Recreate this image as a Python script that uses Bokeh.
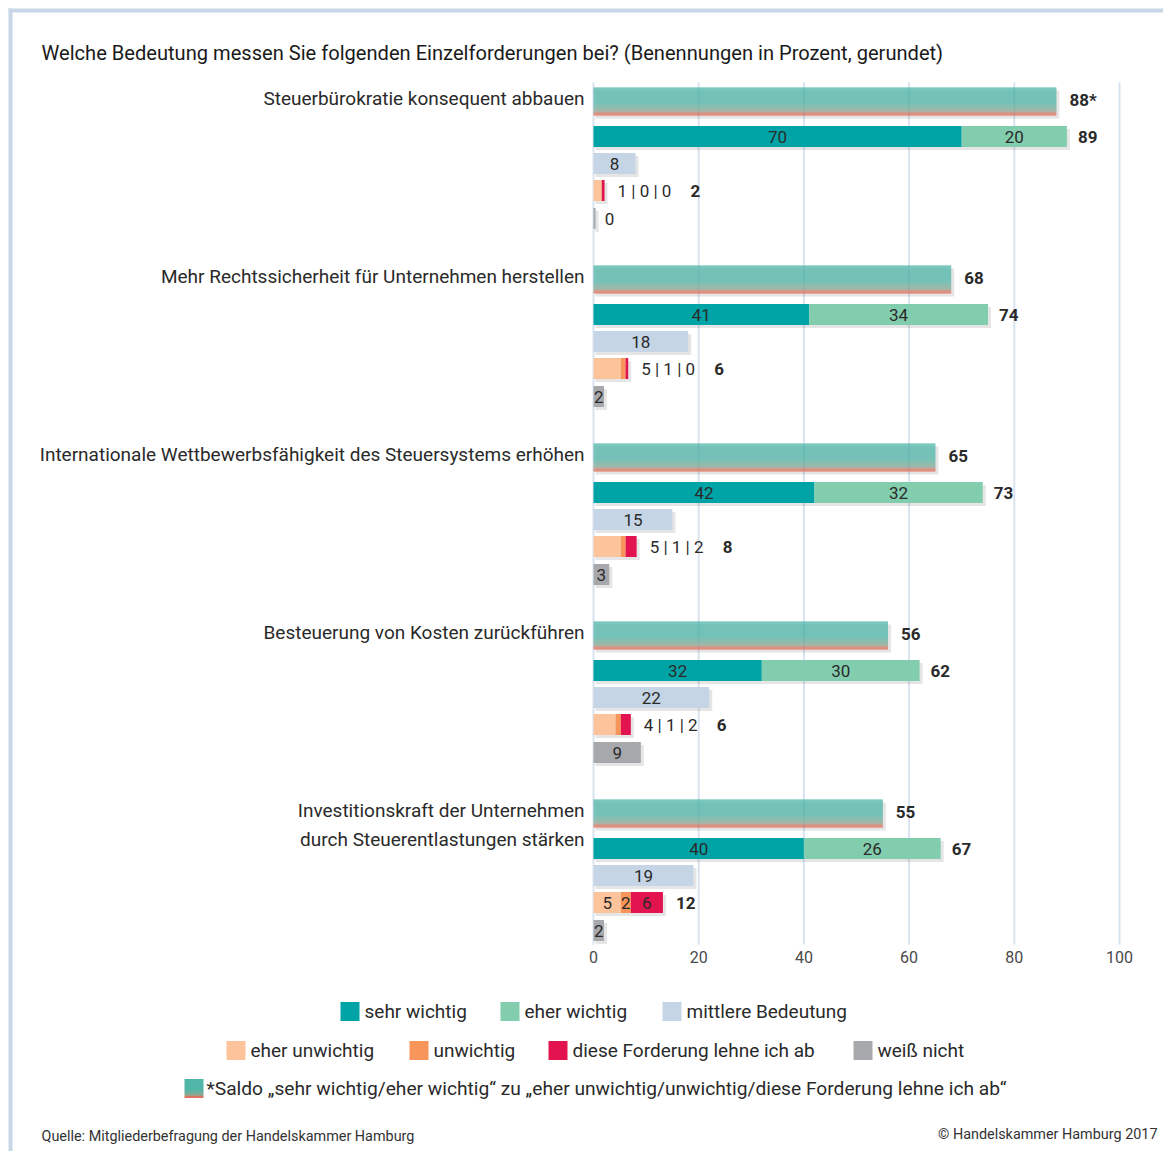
from bokeh.plotting import figure
from bokeh.models import Range1d, LinearAxis, FixedTicker
from bokeh.core.properties import value
from bokeh.embed import file_html
from bokeh.resources import INLINE

# ---------------- data ----------------
categories = [
    "Steuerbürokratie konsequent abbauen",
    "Mehr Rechtssicherheit für Unternehmen herstellen",
    "Internationale Wettbewerbsfähigkeit des Steuersystems erhöhen",
    "Besteuerung von Kosten zurückführen",
    "Investitionskraft der Unternehmen\ndurch Steuerentlastungen stärken",
]
saldo = [88, 68, 65, 56, 55]
saldo_labels = ["88*", "68", "65", "56", "55"]
sehr_wichtig = [70, 41, 42, 32, 40]
eher_wichtig = [20, 34, 32, 30, 26]
wichtig_total = [89, 74, 73, 62, 67]
mittlere = [8, 18, 15, 22, 19]
eher_unwichtig = [1.5, 5.2, 5.2, 4.2, 5.2]
unwichtig = [0.1, 0.9, 0.9, 1.0, 1.9]
ablehnen = [0.5, 0.5, 2.1, 1.9, 6.1]
eher_unwichtig_lbl = [1, 5, 5, 4, 5]
unwichtig_lbl = [0, 1, 1, 1, 2]
ablehnen_lbl = [0, 0, 2, 2, 6]
unwichtig_total = [2, 6, 8, 6, 12]
weiss_nicht = [0.4, 2, 3, 9, 2]
weiss_nicht_lbl = [0, 2, 3, 9, 2]
ticks = [0, 20, 40, 60, 80, 100]

title = "Welche Bedeutung messen Sie folgenden Einzelforderungen bei? (Benennungen in Prozent, gerundet)"
legend_row1 = ["sehr wichtig", "eher wichtig", "mittlere Bedeutung"]
legend_row2 = ["eher unwichtig", "unwichtig", "diese Forderung lehne ich ab", "weiß nicht"]
legend_saldo = "*Saldo „sehr wichtig/eher wichtig“ zu „eher unwichtig/unwichtig/diese Forderung lehne ich ab“"
source_text = "Quelle: Mitgliederbefragung der Handelskammer Hamburg"
copyright_text = "© Handelskammer Hamburg 2017"

# ---------------- style ----------------
C_SEHR = "#00a3a6"
C_EHER = "#82cdad"
C_MITTEL = "#c5d5e6"
C_EUNW = "#fdc49c"
C_UNW = "#f7955a"
C_ABL = "#e2134f"
C_WEISS = "#a7a8ac"
C_GRID = "#d9e3ef"
C_FRAME = "#c8d7e8"
TXT = "#2a2a2a"

FONTNAME = "Roboto"
FONT = value(FONTNAME)

W, H = 1163, 1151
PX = 5.26      # pixels per percent
X0 = 593.0     # canvas x of value 0


def X(px):
    return (px - X0) / PX


def U(px):
    return px / PX


p = figure(width=W, height=H, output_backend="svg", toolbar_location=None,
           x_range=Range1d(X(0), X(W)), y_range=Range1d(H, 0),
           x_axis_location=None, y_axis_location=None, min_border=0)
p.outline_line_color = None
p.xgrid.visible = False
p.ygrid.visible = False
p.background_fill_color = "white"
p.border_fill_color = "white"

# frame lines (top & left)
p.quad(left=[X(8)], right=[X(W)], top=[8], bottom=[12], fill_color=C_FRAME, line_color=None)
p.quad(left=[X(8)], right=[X(12)], top=[8], bottom=[H], fill_color=C_FRAME, line_color=None)

# title
p.text(x=[X(41)], y=[52], text=[title], text_font=FONT, text_font_size="20.1px",
       text_color="#1a1a1a", text_baseline="middle", text_align="left")

n = len(categories)
gy = [101 + 178 * i for i in range(n)]
R_SEHR, R_MIT, R_UNW, R_WEISS = 35, 62, 89, 117
BH = 21

# grid lines
p.segment(x0=ticks, x1=ticks, y0=[82] * len(ticks), y1=[944] * len(ticks),
          line_color=C_GRID, line_width=2)

# axis
ax = LinearAxis(ticker=FixedTicker(ticks=ticks), fixed_location=941)
ax.axis_line_color = None
ax.major_tick_line_color = None
ax.minor_tick_line_color = None
ax.major_label_text_font = FONTNAME
ax.major_label_text_font_size = "16px"
ax.major_label_text_color = "#4a4a4a"
ax.major_label_standoff = 3
p.add_layout(ax, "below")


def shadow(rights, yc, h):
    p.quad(left=[U(2)] * len(rights), right=[r + U(3) for r in rights],
           top=[y - h / 2 + 3 for y in yc], bottom=[y + h / 2 + 3 for y in yc],
           fill_color="#000000", fill_alpha=0.10, line_color=None)


def mix(c1, c2, t):
    return tuple(int(round(a + (b - a) * t)) for a, b in zip(c1, c2))


def grad_color(t):
    teal = (79, 182, 168)
    midc = (140, 168, 148)
    red = (226, 112, 92)
    if t < 0.55:
        c = teal
    elif t < 0.86:
        c = mix(teal, midc, (t - 0.55) / 0.31)
    else:
        c = mix(midc, red, min(1.0, (t - 0.86) / 0.1))
    return "#%02x%02x%02x" % c


# saldo bars (gradient via strips)
SH = 28
shadow(saldo, gy, SH)
L, R, T, B, C = [], [], [], [], []
for i in range(n):
    top = gy[i] - SH / 2
    for k in range(SH):
        L.append(0)
        R.append(saldo[i])
        T.append(top + k)
        B.append(top + k + 1.05)
        C.append(grad_color(k / (SH - 1)))
p.quad(left=L, right=R, top=T, bottom=B, fill_color=C, line_color=None)
p.text(x=[s + U(13) for s in saldo], y=[y - 2 for y in gy], text=saldo_labels,
       text_font=FONT, text_font_size="17px", text_font_style="bold", text_color=TXT,
       text_baseline="middle")

# category labels
cx, cy, ct = [], [], []
for i, c in enumerate(categories):
    for j, line in enumerate(c.split("\n")):
        cx.append(X(584))
        cy.append(gy[i] - 3 + 29 * j)
        ct.append(line)
p.text(x=cx, y=cy, text=ct, text_font=FONT, text_font_size="19px", text_color=TXT,
       text_align="right", text_baseline="middle")

# sehr / eher wichtig
ys = [y + R_SEHR for y in gy]
shadow([a + b for a, b in zip(sehr_wichtig, eher_wichtig)], ys, BH)
p.quad(left=[0] * n, right=sehr_wichtig, top=[y - BH / 2 for y in ys], bottom=[y + BH / 2 for y in ys],
       fill_color=C_SEHR, line_color=None)
p.quad(left=sehr_wichtig, right=[a + b for a, b in zip(sehr_wichtig, eher_wichtig)],
       top=[y - BH / 2 for y in ys], bottom=[y + BH / 2 for y in ys], fill_color=C_EHER, line_color=None)
p.text(x=[a / 2 for a in sehr_wichtig], y=ys, text=[str(v) for v in sehr_wichtig], text_font=FONT,
       text_font_size="17px", text_color=TXT, text_align="center", text_baseline="middle")
p.text(x=[a + b / 2 for a, b in zip(sehr_wichtig, eher_wichtig)], y=ys, text=[str(v) for v in eher_wichtig],
       text_font=FONT, text_font_size="17px", text_color=TXT, text_align="center", text_baseline="middle")
p.text(x=[a + b + U(11) for a, b in zip(sehr_wichtig, eher_wichtig)], y=ys, text=[str(v) for v in wichtig_total],
       text_font=FONT, text_font_size="17px", text_font_style="bold", text_color=TXT, text_baseline="middle")

# mittlere Bedeutung
ym = [y + R_MIT for y in gy]
shadow(mittlere, ym, BH)
p.quad(left=[0] * n, right=mittlere, top=[y - BH / 2 for y in ym], bottom=[y + BH / 2 for y in ym],
       fill_color=C_MITTEL, line_color=None)
p.text(x=[m / 2 for m in mittlere], y=ym, text=[str(v) for v in mittlere], text_font=FONT,
       text_font_size="17px", text_color=TXT, text_align="center", text_baseline="middle")

# eher unwichtig / unwichtig / ablehnen
yu = [y + R_UNW for y in gy]
e1 = eher_unwichtig
e2 = [a + b for a, b in zip(eher_unwichtig, unwichtig)]
e3 = [a + b + c for a, b, c in zip(eher_unwichtig, unwichtig, ablehnen)]
shadow(e3, yu, BH)
p.quad(left=[0] * n, right=e1, top=[y - BH / 2 for y in yu], bottom=[y + BH / 2 for y in yu],
       fill_color=C_EUNW, line_color=None)
p.quad(left=e1, right=e2, top=[y - BH / 2 for y in yu], bottom=[y + BH / 2 for y in yu],
       fill_color=C_UNW, line_color=None)
p.quad(left=e2, right=e3, top=[y - BH / 2 for y in yu], bottom=[y + BH / 2 for y in yu],
       fill_color=C_ABL, line_color=None)
ox, oy, ot, ix, iy, it, tx, ty, tt = [], [], [], [], [], [], [], [], []
for i in range(n):
    if ablehnen[i] >= 4:
        for lo, hi, lab in ((0, e1[i], eher_unwichtig_lbl[i]), (e1[i], e2[i], unwichtig_lbl[i]),
                            (e2[i], e3[i], ablehnen_lbl[i])):
            ix.append((lo + hi) / 2)
            iy.append(yu[i])
            it.append(str(lab))
        tx.append(e3[i] + U(13))
    else:
        ox.append(e3[i] + U(13))
        oy.append(yu[i])
        ot.append("%d | %d | %d" % (eher_unwichtig_lbl[i], unwichtig_lbl[i], ablehnen_lbl[i]))
        tx.append(e3[i] + U(86))
    ty.append(yu[i])
    tt.append(str(unwichtig_total[i]))
p.text(x=ox, y=oy, text=ot, text_font=FONT, text_font_size="17px", text_color=TXT, text_baseline="middle")
p.text(x=ix, y=iy, text=it, text_font=FONT, text_font_size="17px", text_color=TXT, text_align="center",
       text_baseline="middle")
p.text(x=tx, y=ty, text=tt, text_font=FONT, text_font_size="17px", text_font_style="bold", text_color=TXT,
       text_baseline="middle")

# weiss nicht
yw = [y + R_WEISS for y in gy]
shadow(weiss_nicht, yw, BH)
p.quad(left=[0] * n, right=weiss_nicht, top=[y - BH / 2 for y in yw], bottom=[y + BH / 2 for y in yw],
       fill_color=C_WEISS, line_color=None)
wx = [w / 2 if l > 0 else w + U(14) for w, l in zip(weiss_nicht, weiss_nicht_lbl)]
p.text(x=wx, y=yw, text=[str(v) for v in weiss_nicht_lbl], text_font=FONT, text_font_size="17px",
       text_color=TXT, text_align="center", text_baseline="middle")

# legend
SQ = 19
leg1_x = [340, 500, 662]
leg1_c = [C_SEHR, C_EHER, C_MITTEL]
leg2_x = [226, 409, 548, 853]
leg2_c = [C_EUNW, C_UNW, C_ABL, C_WEISS]
for xs, cols, labels, yc in ((leg1_x, leg1_c, legend_row1, 1011), (leg2_x, leg2_c, legend_row2, 1050)):
    p.quad(left=[X(x) for x in xs], right=[X(x + SQ) for x in xs], top=[yc - SQ / 2] * len(xs),
           bottom=[yc + SQ / 2] * len(xs), fill_color=cols, line_color=None)
    p.text(x=[X(x + SQ + 5) for x in xs], y=[yc] * len(xs), text=labels, text_font=FONT,
           text_font_size="19px", text_color=TXT, text_baseline="middle")
L, R, T, B, C = [], [], [], [], []
for k in range(SQ):
    L.append(X(184))
    R.append(X(184 + SQ))
    T.append(1088 - SQ / 2 + k)
    B.append(1088 - SQ / 2 + k + 1.05)
    C.append(grad_color(k / (SQ - 1)))
p.quad(left=L, right=R, top=T, bottom=B, fill_color=C, line_color=None)
p.text(x=[X(206)], y=[1088], text=[legend_saldo], text_font=FONT, text_font_size="19.2px",
       text_color=TXT, text_baseline="middle")

# footer
p.text(x=[X(41)], y=[1136], text=[source_text], text_font=FONT, text_font_size="14.4px",
       text_color="#333333", text_baseline="middle")
p.text(x=[X(1157)], y=[1134], text=[copyright_text], text_font=FONT, text_font_size="14.4px",
       text_color="#333333", text_baseline="middle", text_align="right")

open("out.html", "w").write(file_html(p, INLINE))
